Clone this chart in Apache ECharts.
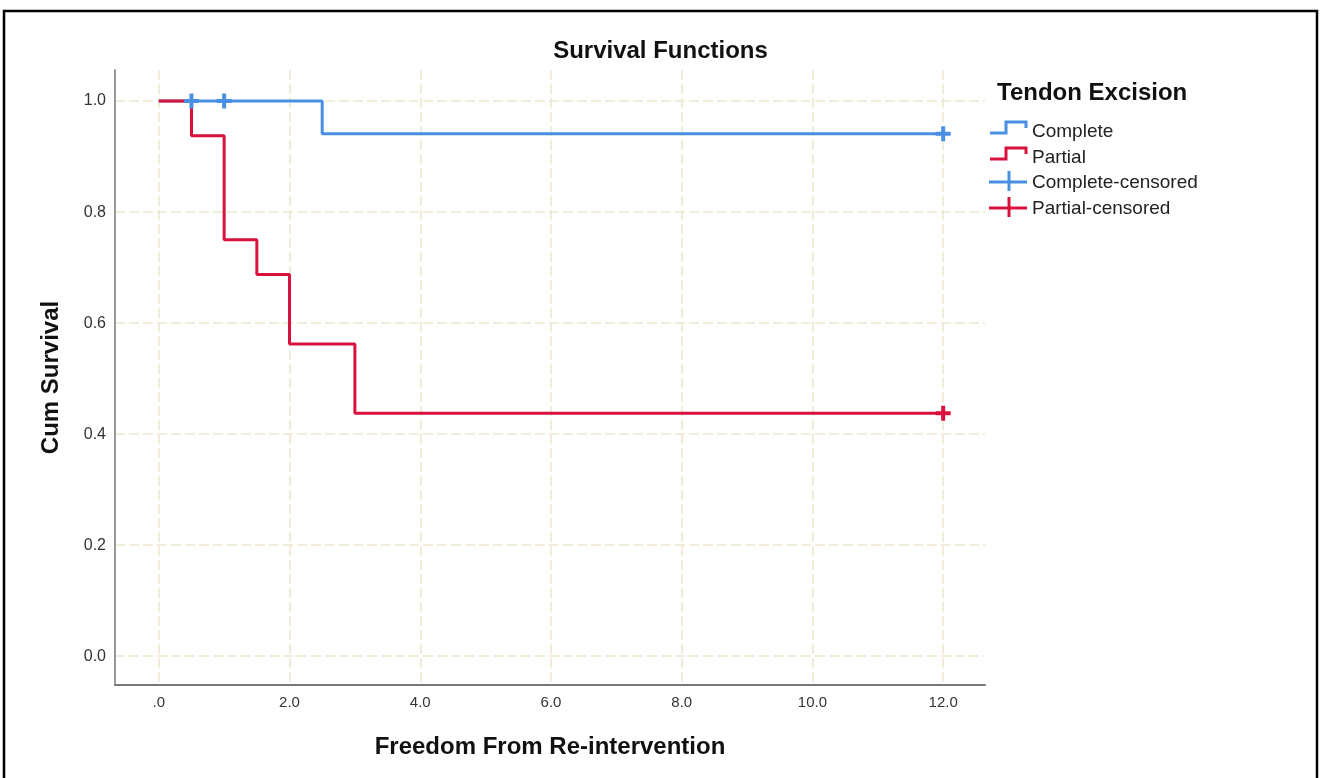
<!DOCTYPE html>
<html>
<head>
<meta charset="utf-8">
<script src="https://cdn.jsdelivr.net/npm/echarts@6/dist/echarts.min.js"></script>
<style>html,body{margin:0;padding:0;background:#fff}#c{width:1321px;height:778px}</style>
</head>
<body>
<div id="c"></div>
<script>
// ---- data ----
var groupNames = ['Complete', 'Partial'];
var groupColors = ['#4a90e2', '#d9123d'];
var completeTimes = [0, 2.5, 12];
var completeSurv = [1.0, 0.941, 0.941];
var partialTimes = [0, 0.5, 1.0, 1.5, 2.0, 3.0, 12];
var partialSurv = [1.0, 0.9375, 0.75, 0.6875, 0.5625, 0.4375, 0.4375];
var completeCensorTimes = [0.5, 1.0, 12];
var completeCensorSurv = [1.0, 1.0, 0.941];
var partialCensorTimes = [12];
var partialCensorSurv = [0.4375];
var legendLabels = ['Complete', 'Partial', 'Complete-censored', 'Partial-censored'];

function zip(a, b) { return a.map(function (v, i) { return [v, b[i]]; }); }

var FONT = "'Liberation Sans', Arial, sans-serif";
var plusPath = 'path://M5.5,0 H9.5 V5.5 H15 V9.5 H9.5 V15 H5.5 V9.5 H0 V5.5 H5.5 Z';

var chart = echarts.init(document.getElementById('c'), null, {renderer: 'canvas'});

// legend graphics
var legendG = [];
legendG.push({type: 'text', left: 997, top: 81, style: {text: 'Tendon Excision', font: 'bold 24px ' + FONT, fill: '#111'}});
var rowY = [131, 157, 182, 208];
legendLabels.forEach(function (lab, i) {
  var col = groupColors[i % 2];
  var y = rowY[i];
  if (i < 2) {
    legendG.push({type: 'polyline', shape: {points: [[990, y + 2], [1006, y + 2], [1006, y - 9], [1026, y - 9], [1026, y - 3]]},
      style: {stroke: col, lineWidth: 3, fill: null}});
  } else {
    legendG.push({type: 'line', shape: {x1: 989, y1: y, x2: 1027, y2: y}, style: {stroke: col, lineWidth: 3}});
    legendG.push({type: 'line', shape: {x1: 1009, y1: y - 11, x2: 1009, y2: y + 9}, style: {stroke: col, lineWidth: 3}});
  }
  legendG.push({type: 'text', left: 1032, top: y - 9, style: {text: lab, font: '19px ' + FONT, fill: '#222'}});
});
legendG.push({type: 'rect', shape: {x: 4, y: 11, width: 1313, height: 820}, style: {stroke: '#000', lineWidth: 2.5, fill: null}, silent: true});

var gridLine = {show: true, showMinLine: false, showMaxLine: false, lineStyle: {color: '#eee7d0', width: 1.5, type: [10, 4]}};

chart.setOption({
  backgroundColor: '#fff',
  animation: false,
  title: {text: 'Survival Functions', left: 'center', top: 34,
    textStyle: {fontFamily: FONT, fontSize: 24, fontWeight: 'bold', color: '#111'}},
  grid: {left: 115, right: 336, top: 70, bottom: 93},
  xAxis: {
    type: 'value', min: -0.67, max: 12.64, splitNumber: 7,
    name: 'Freedom From Re-intervention', nameLocation: 'middle', nameGap: 50,
    nameTextStyle: {fontFamily: FONT, fontSize: 24, fontWeight: 'bold', color: '#111'},
    axisLine: {show: true, onZero: false, lineStyle: {color: '#777', width: 2}},
    axisTick: {show: false},
    axisLabel: {showMinLabel: false, showMaxLabel: false, margin: 10, fontFamily: FONT, fontSize: 15, color: '#333',
      formatter: function (v) { return v === 0 ? '.0' : v.toFixed(1); }},
    splitLine: gridLine
  },
  yAxis: {
    type: 'value', min: -0.052, max: 1.056, splitNumber: 5,
    name: 'Cum Survival', nameLocation: 'middle', nameGap: 52, nameRotate: 90,
    nameTextStyle: {fontFamily: FONT, fontSize: 24, fontWeight: 'bold', color: '#111'},
    axisLine: {show: true, onZero: false, lineStyle: {color: '#999', width: 2}},
    axisTick: {show: false},
    axisLabel: {showMinLabel: false, showMaxLabel: false, margin: 9, fontFamily: FONT, fontSize: 16, color: '#333',
      formatter: function (v) { return v.toFixed(1); }},
    splitLine: gridLine
  },
  graphic: legendG,
  series: [
    {name: legendLabels[0], type: 'line', step: 'end', data: zip(completeTimes, completeSurv), showSymbol: false,
      lineStyle: {color: groupColors[0], width: 3}, itemStyle: {color: groupColors[0]}, z: 2},
    {name: legendLabels[1], type: 'line', step: 'end', data: zip(partialTimes, partialSurv), showSymbol: false,
      lineStyle: {color: groupColors[1], width: 3}, itemStyle: {color: groupColors[1]}, z: 3},
    {name: legendLabels[2], type: 'scatter', data: zip(completeCensorTimes, completeCensorSurv), symbol: plusPath,
      symbolSize: 15, itemStyle: {color: groupColors[0], opacity: 1}, z: 4},
    {name: legendLabels[3], type: 'scatter', data: zip(partialCensorTimes, partialCensorSurv), symbol: plusPath,
      symbolSize: 15, itemStyle: {color: groupColors[1], opacity: 1}, z: 4}
  ]
});
</script>
</body>
</html>
